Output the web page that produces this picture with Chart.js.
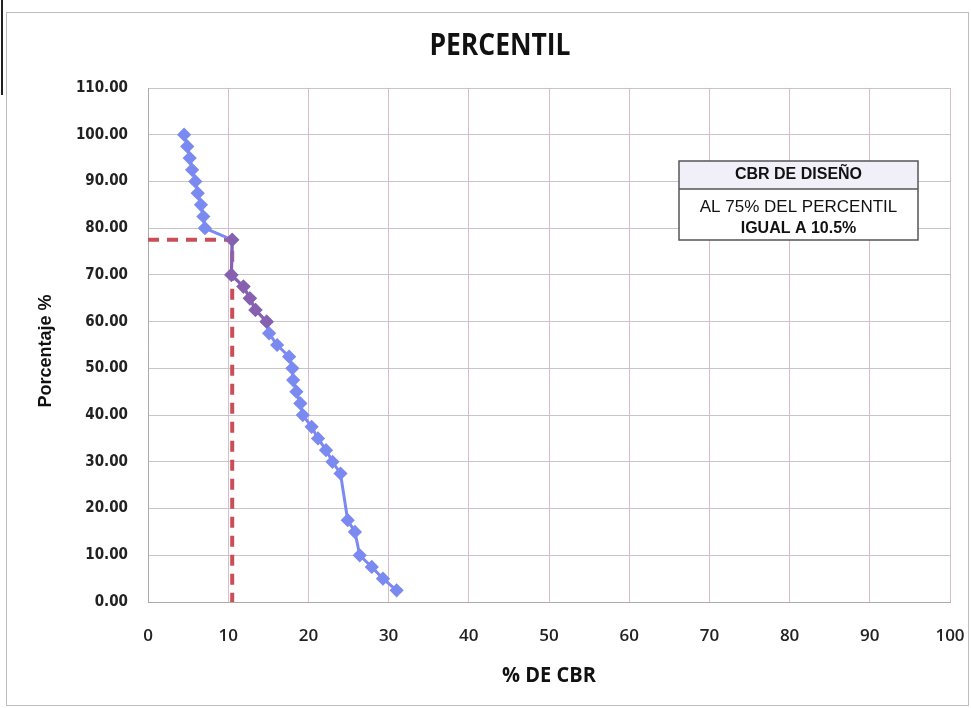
<!DOCTYPE html>
<html>
<head>
<meta charset="utf-8">
<script src="https://cdn.jsdelivr.net/npm/chart.js@4.4.0/dist/chart.umd.min.js"></script>
<style>
html,body{margin:0;padding:0;background:#fff;}
#wrap{width:971px;height:708px;position:relative;}
</style>
</head>
<body>
<div id="wrap"><canvas id="c" width="971" height="708"></canvas></div>
<script>
// ---- data ----
const percentages = [100, 97.5, 95, 92.5, 90, 87.5, 85, 82.5, 80, 77.5, 70, 67.5, 65, 62.5, 60, 57.5, 55, 52.5, 50, 47.5, 45, 42.5, 40, 37.5, 35, 32.5, 30, 27.5, 17.5, 15, 10, 7.5, 5, 2.5];
const cbrValues   = [4.5, 4.9, 5.2, 5.5, 5.9, 6.2, 6.6, 6.9, 7.1, 10.5, 10.4, 11.9, 12.7, 13.4, 14.8, 15.1, 16.1, 17.6, 18.0, 18.1, 18.5, 19.0, 19.3, 20.4, 21.2, 22.2, 23.0, 24.0, 24.9, 25.8, 26.4, 27.9, 29.3, 31.0];
const highlightRange = [9, 14]; // indices of the purple stretch
const designCbr = 10.5;
const designPct = 77.5;
const xTicks = [0, 10, 20, 30, 40, 50, 60, 70, 80, 90, 100];
const yTicks = [0, 10, 20, 30, 40, 50, 60, 70, 80, 90, 100, 110];
const titleText = 'PERCENTIL';
const xTitle = '% DE CBR';
const yTitle = 'Porcentaje %';
const boxLines = ['CBR DE DISEÑO', 'AL 75% DEL PERCENTIL', 'IGUAL A 10.5%'];

const mainPts = cbrValues.map((v, i) => ({x: v, y: percentages[i]}));
const purplePts = mainPts.slice(highlightRange[0], highlightRange[1] + 1);

const BLUE = 'rgb(122,138,240)';
const PURPLE = 'rgb(136,96,176)';
const RED = 'rgb(200,78,88)';
const NARROW = "'Open Sans', sans-serif";

const decor = {
  id: 'decor',
  beforeDraw(chart) {
    const ctx = chart.ctx;
    ctx.save();
    ctx.fillStyle = '#fff';
    ctx.fillRect(0, 0, chart.width, chart.height);
    ctx.strokeStyle = '#bdbdbd';
    ctx.lineWidth = 1;
    ctx.strokeRect(6.5, 12.5, 962, 693);
    ctx.strokeStyle = '#222';
    ctx.lineWidth = 2;
    ctx.beginPath(); ctx.moveTo(2, 0); ctx.lineTo(2, 95); ctx.stroke();
    ctx.restore();
  },
  afterDraw(chart) {
    const ctx = chart.ctx;
    ctx.save();
    ctx.fillStyle = '#111';
    ctx.textAlign = 'center';
    ctx.textBaseline = 'middle';
    ctx.save();
    ctx.translate(500, 47);
    ctx.scale(0.98, 1.1);
    ctx.font = "bold 27px " + NARROW;
    ctx.fillText(titleText, 0, 0);
    ctx.restore();
    ctx.save();
    ctx.translate(549, 676);
    ctx.scale(1.0, 1.05);
    ctx.font = "bold 20px " + NARROW;
    ctx.fillText(xTitle, 0, 0);
    ctx.restore();
    ctx.save();
    ctx.translate(46, 351);
    ctx.rotate(-Math.PI / 2);
    ctx.font = "bold 18px 'Liberation Sans', Arial, sans-serif";
    ctx.fillText(yTitle, 0, 0);
    ctx.restore();
    // text box
    const bx = 679, by = 161, bw = 239, bh = 79, hh = 28;
    ctx.fillStyle = '#fff';
    ctx.fillRect(bx, by, bw, bh);
    ctx.fillStyle = '#f1eff8';
    ctx.fillRect(bx, by, bw, hh);
    ctx.strokeStyle = '#555';
    ctx.lineWidth = 1.5;
    ctx.strokeRect(bx, by, bw, bh);
    ctx.beginPath(); ctx.moveTo(bx, by + hh); ctx.lineTo(bx + bw, by + hh); ctx.stroke();
    ctx.fillStyle = '#111';
    ctx.font = "bold 16px 'Liberation Sans', Arial, sans-serif";
    ctx.fillText(boxLines[0], bx + bw / 2, by + 14);
    ctx.font = "17px 'Liberation Sans', Arial, sans-serif";
    ctx.fillText(boxLines[1], bx + bw / 2, by + 46);
    ctx.font = "bold 16px 'Liberation Sans', Arial, sans-serif";
    ctx.fillText(boxLines[2], bx + bw / 2, by + 68);
    ctx.restore();
  }
};

new Chart(document.getElementById('c'), {
  type: 'scatter',
  data: {
    datasets: [
      {
        data: purplePts, showLine: true, borderColor: PURPLE, borderWidth: 3,
        pointStyle: 'rectRot', pointRadius: 5, pointBackgroundColor: PURPLE, pointBorderColor: PURPLE,
        fill: false, tension: 0
      },
      {
        data: mainPts, showLine: true, borderColor: BLUE, borderWidth: 3,
        pointStyle: 'rectRot', pointRadius: 5, pointBackgroundColor: BLUE, pointBorderColor: BLUE,
        fill: false, tension: 0
      },
      {
        data: [{x: 0, y: designPct}, {x: designCbr, y: designPct}, {x: designCbr, y: 0}],
        showLine: true, borderColor: RED, borderWidth: 4, borderDash: [11, 8],
        pointRadius: 0, fill: false
      }
    ]
  },
  options: {
    responsive: false,
    animation: false,
    devicePixelRatio: 1,
    layout: {padding: {left: 0, right: 21, top: 88, bottom: 0}},
    plugins: {legend: {display: false}, tooltip: {enabled: false}, title: {display: false}},
    scales: {
      x: {
        type: 'linear', min: 0, max: 100,
        afterBuildTicks: s => { s.ticks = xTicks.map(v => ({value: v})); },
        afterFit: s => { s.height = 106; s.paddingRight = 0; s.paddingLeft = 0; },
        grid: {color: 'rgba(205,165,190,0.75)', lineWidth: 1, drawTicks: false},
        border: {color: '#aaa'},
        ticks: {padding: 24, color: '#222', font: {family: NARROW, size: 17, weight: '600'}}
      },
      y: {
        type: 'linear', min: 0, max: 110,
        afterBuildTicks: s => { s.ticks = yTicks.map(v => ({value: v})); },
        afterFit: s => { s.width = 148; s.paddingTop = 0; s.paddingBottom = 0; },
        grid: {color: 'rgba(195,190,195,0.9)', lineWidth: 1, drawTicks: false},
        border: {color: '#aaa'},
        ticks: {padding: 20, color: '#222', font: {family: "'DejaVu Sans Condensed', 'DejaVu Sans', sans-serif", size: 15, weight: 'bold'},
                callback: v => Number(v).toFixed(2)}
      }
    }
  },
  plugins: [decor]
});
</script>
</body>
</html>
